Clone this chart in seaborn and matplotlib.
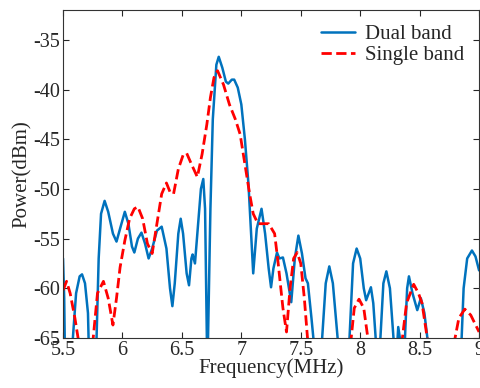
import numpy as np
import pandas as pd
import seaborn as sns
import matplotlib
matplotlib.use("Agg")
import matplotlib.pyplot as plt

# Dual band trace (MHz, dBm); values below -65 are nulls
dual_freq = [5.500, 5.510, 5.525,
             5.580, 5.610, 5.640, 5.660, 5.685, 5.710, 5.735,
             5.780, 5.800, 5.820, 5.850, 5.880, 5.920, 5.950, 5.980, 6.020, 6.050,
             6.080, 6.100, 6.130, 6.160, 6.190, 6.220, 6.250, 6.290, 6.330, 6.370,
             6.400, 6.420, 6.440, 6.470, 6.490, 6.510, 6.540, 6.560, 6.580, 6.590,
             6.610, 6.630, 6.660, 6.680, 6.695, 6.710, 6.715,
             6.720, 6.740, 6.760, 6.790, 6.810, 6.840, 6.870, 6.890, 6.920, 6.940,
             6.970, 7.000, 7.030, 7.060, 7.080, 7.100, 7.130, 7.170, 7.200, 7.230,
             7.250, 7.270, 7.300, 7.320, 7.350, 7.380, 7.420, 7.450, 7.480, 7.510,
             7.540, 7.560, 7.590, 7.610, 7.640,
             7.680, 7.710, 7.740, 7.770, 7.810, 7.860,
             7.910, 7.940, 7.970, 8.000, 8.030, 8.050, 8.090, 8.110, 8.130, 8.150,
             8.170, 8.195, 8.220, 8.250, 8.280, 8.300, 8.320, 8.340, 8.355,
             8.380, 8.395, 8.410, 8.440, 8.480, 8.510, 8.540, 8.570, 8.600,
             8.700, 8.850, 8.870, 8.900, 8.940, 8.970, 9.000]
dual_power = [-57.0, -61.0, -75,
              -65.5, -60.5, -58.8, -58.6, -59.5, -62.5, -75,
              -66.0, -57.0, -52.5, -51.2, -52.3, -54.5, -55.3, -54.0, -52.3, -53.5,
              -55.8, -56.4, -55.0, -54.4, -55.5, -57.0, -56.0, -54.2, -53.8, -56.0,
              -60.0, -61.8, -59.5, -54.5, -53.0, -54.5, -58.5, -59.7, -57.0, -56.6,
              -57.5, -54.5, -50.0, -49.0, -52.0, -65.0, -80,
              -65.0, -52.0, -43.0, -37.5, -36.7, -37.8, -39.2, -39.4, -39.0, -39.0,
              -39.8, -41.5, -45.0, -49.5, -54.0, -58.5, -54.0, -52.0, -54.5, -58.0,
              -59.9, -58.0, -56.4, -57.0, -56.9, -58.5, -61.4, -57.0, -54.7, -56.5,
              -59.0, -59.5, -63.0, -65.5, -75,
              -65.0, -59.5, -57.8, -59.5, -65.0, -75,
              -65.0, -57.5, -56.0, -57.0, -60.0, -61.2, -59.9, -61.5, -65.0, -75,
              -65.0, -59.5, -58.3, -60.0, -65.0, -68.0, -63.9, -65.5, -72,
              -64.0, -60.0, -58.8, -60.5, -62.2, -61.0, -62.5, -65.5, -75,
              -80, -66.0, -60.0, -57.0, -56.2, -56.8, -58.2]

# Single band trace
single_freq = [5.500, 5.530, 5.560, 5.600, 5.640, 5.690,
               5.750, 5.790, 5.840, 5.880, 5.920, 5.950, 5.980, 6.020, 6.060, 6.100,
               6.130, 6.170, 6.210, 6.250, 6.290, 6.330, 6.370, 6.400, 6.430, 6.470,
               6.510, 6.540, 6.580, 6.630, 6.670, 6.710, 6.740, 6.770, 6.800, 6.850,
               6.900, 6.950, 6.990, 7.030, 7.070, 7.100, 7.140, 7.230, 7.280, 7.310,
               7.350, 7.380, 7.410, 7.440, 7.470, 7.500, 7.530, 7.560, 7.600,
               7.880, 7.920, 7.950, 7.990, 8.030, 8.070, 8.110,
               8.300, 8.350, 8.390, 8.450, 8.490, 8.520, 8.570, 8.620,
               8.740, 8.790, 8.830, 8.880, 8.930, 9.000]
single_power = [-60.2, -59.3, -60.5, -63.0, -66.0, -75,
                -65.5, -60.5, -59.3, -61.0, -63.7, -61.0, -57.9, -55.2, -53.0, -52.0,
                -51.8, -53.0, -55.5, -56.5, -53.5, -50.5, -49.4, -50.3, -50.5, -48.0,
                -46.6, -46.4, -47.5, -48.8, -46.5, -43.5, -40.8, -38.8, -38.1, -39.5,
                -41.5, -43.0, -44.5, -47.5, -50.5, -52.5, -53.5, -53.5, -54.5, -57.5,
                -62.0, -64.4, -60.0, -57.0, -56.4, -57.5, -61.0, -65.5, -75,
                -75, -65.5, -62.0, -61.1, -62.0, -65.5, -75,
                -75, -65.5, -61.5, -59.6, -60.5, -61.5, -65.5, -75,
                -75, -65.5, -63.0, -62.1, -62.7, -64.4]

x_ticks = [5.5, 6, 6.5, 7, 7.5, 8, 8.5, 9]
x_labels = ["5.5", "6", "6.5", "7", "7.5", "8", "8.5", "9"]
y_ticks = [-65, -60, -55, -50, -45, -40, -35]

dual = pd.DataFrame({"freq": dual_freq, "power": dual_power})
single = pd.DataFrame({"freq": single_freq, "power": single_power})

sns.set_style("ticks")
plt.rcParams["font.family"] = ["Liberation Serif", "DejaVu Serif"]
plt.rcParams["axes.unicode_minus"] = False

fig = plt.figure(figsize=(4.81, 3.88), dpi=100)
ax = fig.add_axes([0.131, 0.129, 0.865, 0.845])

sns.lineplot(data=dual, x="freq", y="power", ax=ax, color="#0072BD",
             linewidth=1.8, label="Dual band", sort=False)
sns.lineplot(data=single, x="freq", y="power", ax=ax, color="#FF0000",
             linewidth=2.0, linestyle="--", label="Single band", sort=False)

ax.set_xlim(5.5, 9)
ax.set_ylim(-65, -32)
ax.set_xticks(x_ticks)
ax.set_xticklabels(x_labels)
ax.set_yticks(y_ticks)
ax.tick_params(direction="in", top=True, right=True, labelsize=14.5, length=4,
               width=0.8, pad=2)
for s in ax.spines.values():
    s.set_linewidth(0.8)
    s.set_color("#333333")

ax.set_xlabel("Frequency(MHz)", fontsize=15, labelpad=-1)
ax.set_ylabel("Power(dBm)", fontsize=15, labelpad=1)

leg = ax.legend(loc="upper right", frameon=False, fontsize=15,
                handlelength=1.6, borderaxespad=0.5, labelspacing=0.05,
                handletextpad=0.5, borderpad=0.2)

fig.savefig("out.png", dpi=100)
